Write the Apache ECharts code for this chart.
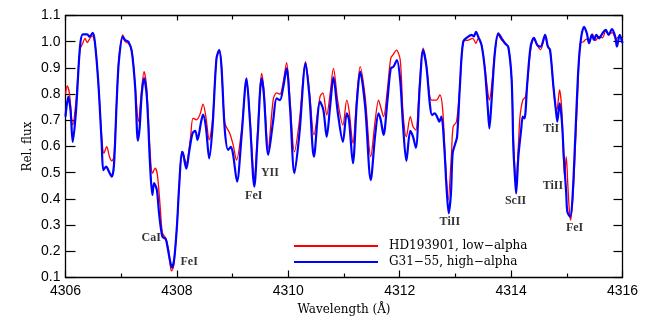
<!DOCTYPE html>
<html>
<head>
<meta charset="utf-8">
<script src="https://cdn.jsdelivr.net/npm/echarts@6/dist/echarts.min.js"></script>
<style>
  html, body { margin: 0; padding: 0; background: #fff; }
  #main { width: 654px; height: 327px; }
</style>
</head>
<body>
<div id="main"></div>
<script>
// G31-55 (high-alpha), blue
let wlHigh = [4306.00,4306.05,4306.09,4306.13,4306.19,4306.26,4306.31,4306.39,4306.43,4306.49,4306.53,4306.59,4306.65,4306.68,4306.73,4306.78,4306.83,4306.87,4306.92,4306.96,
  4307.03,4307.07,4307.13,4307.19,4307.25,4307.30,4307.33,4307.37,4307.41,4307.46,4307.52,4307.56,4307.59,4307.64,4307.68,4307.74,4307.80,4307.83,4307.88,4307.91,4307.95,
  4308.00,4308.04,4308.09,4308.11,4308.17,4308.22,4308.28,4308.33,4308.37,4308.43,4308.47,4308.52,4308.58,4308.64,4308.71,4308.76,4308.80,4308.86,4308.92,4308.97,
  4309.01,4309.08,4309.16,4309.25,4309.31,4309.39,4309.45,4309.52,4309.56,4309.64,4309.73,4309.79,4309.85,4309.91,4309.97,
  4310.03,4310.11,4310.20,4310.31,4310.38,4310.46,4310.57,4310.63,4310.69,4310.75,4310.81,4310.89,4310.98,
  4311.05,4311.09,4311.16,4311.23,4311.29,4311.38,4311.48,4311.56,4311.62,4311.66,4311.71,4311.78,4311.84,4311.89,4311.95,
  4312.01,4312.06,4312.12,4312.19,4312.24,4312.29,4312.36,4312.42,4312.48,4312.54,4312.58,4312.63,4312.67,4312.71,4312.75,4312.80,4312.84,4312.88,4312.92,4312.95,4312.99,
  4313.03,4313.08,4313.14,4313.23,4313.29,4313.33,4313.37,4313.41,4313.47,4313.53,4313.58,4313.61,4313.65,4313.71,4313.77,4313.83,4313.89,4313.95,
  4314.01,4314.04,4314.07,4314.09,4314.13,4314.18,4314.21,4314.24,4314.29,4314.35,4314.41,4314.47,4314.53,4314.61,4314.66,4314.70,4314.76,4314.81,4314.83,4314.87,4314.91,4314.95,4314.99,
  4315.01,4315.06,4315.10,4315.15,4315.21,4315.26,4315.31,4315.36,4315.40,4315.45,4315.49,4315.53,4315.58,4315.64,4315.70,4315.75,4315.81,4315.87,4315.90,4315.95,4316.00];
let fluxHigh = [0.714,0.790,0.739,0.618,0.740,0.980,1.028,1.028,1.019,1.034,0.994,0.841,0.612,0.510,0.523,0.504,0.485,0.529,0.777,0.930,
  1.019,1.006,1.000,0.962,0.828,0.622,0.669,0.803,0.860,0.790,0.523,0.415,0.460,0.434,0.345,0.256,0.246,0.218,0.160,0.138,0.167,
  0.294,0.447,0.580,0.574,0.515,0.580,0.650,0.660,0.625,0.689,0.722,0.676,0.555,0.676,0.935,0.968,0.905,0.663,0.587,0.599,
  0.568,0.466,0.637,0.860,0.701,0.447,0.637,0.860,0.803,0.568,0.701,0.784,0.777,0.828,0.898,
  0.752,0.498,0.650,0.917,0.790,0.561,0.771,0.739,0.637,0.752,0.864,0.727,0.618,
  0.727,0.701,0.536,0.765,0.886,0.752,0.472,0.644,0.727,0.701,0.644,0.777,0.898,0.905,0.930,
  0.850,0.680,0.545,0.660,0.637,0.595,0.828,0.968,0.905,0.765,0.720,0.727,0.714,0.695,0.714,0.599,0.447,0.345,0.421,0.574,0.606,
  0.637,0.828,1.000,1.019,1.026,1.020,1.038,1.019,0.987,0.892,0.752,0.669,0.777,0.962,1.032,1.013,0.994,0.980,
  0.854,0.600,0.480,0.421,0.561,0.663,0.714,0.707,0.841,0.981,1.015,0.987,0.981,1.026,0.981,0.968,0.828,0.727,0.695,0.765,0.701,0.548,0.421,
  0.351,0.332,0.396,0.625,0.905,1.019,1.057,1.032,0.994,1.026,1.006,1.026,1.013,1.032,1.045,1.026,1.048,1.019,0.981,1.026,0.994];

// HD193901 (low-alpha), red
let wlLow = [4306.00,4306.03,4306.07,4306.13,4306.19,4306.26,4306.31,4306.35,4306.39,4306.44,4306.48,4306.53,4306.59,4306.65,4306.69,4306.74,4306.79,4306.83,4306.87,4306.92,4306.96,
  4307.03,4307.07,4307.13,4307.19,4307.25,4307.31,4307.36,4307.41,4307.46,4307.52,4307.56,4307.61,4307.65,4307.70,4307.74,4307.80,4307.85,4307.90,4307.94,
  4308.00,4308.04,4308.09,4308.11,4308.17,4308.24,4308.29,4308.35,4308.41,4308.47,4308.52,4308.58,4308.64,4308.71,4308.76,4308.80,4308.86,4308.95,
  4309.01,4309.07,4309.16,4309.25,4309.31,4309.39,4309.45,4309.52,4309.56,4309.64,4309.73,4309.79,4309.85,4309.91,4309.97,
  4310.03,4310.11,4310.20,4310.31,4310.38,4310.46,4310.57,4310.62,4310.69,4310.75,4310.81,4310.89,4310.98,
  4311.05,4311.09,4311.16,4311.23,4311.29,4311.38,4311.48,4311.56,4311.62,4311.66,4311.71,4311.78,4311.84,4311.89,4311.94,
  4312.01,4312.06,4312.12,4312.19,4312.24,4312.29,4312.36,4312.42,4312.48,4312.54,4312.58,4312.66,4312.72,4312.77,4312.82,4312.87,4312.93,4312.96,
  4313.02,4313.08,4313.14,4313.23,4313.31,4313.37,4313.41,4313.47,4313.53,4313.58,4313.61,4313.65,4313.71,4313.77,4313.83,4313.89,4313.95,
  4314.01,4314.04,4314.07,4314.09,4314.13,4314.16,4314.21,4314.26,4314.30,4314.35,4314.41,4314.47,4314.53,4314.61,4314.66,4314.70,4314.76,4314.81,4314.83,4314.87,4314.91,4314.96,4314.99,
  4315.02,4315.05,4315.07,4315.12,4315.19,4315.24,4315.30,4315.35,4315.40,4315.46,4315.52,4315.58,4315.64,4315.70,4315.76,4315.82,4315.88,4315.94,4316.00];
let fluxLow = [0.800,0.831,0.803,0.682,0.777,0.970,0.994,1.013,0.997,1.013,1.022,0.994,0.841,0.637,0.574,0.599,0.561,0.545,0.561,0.777,0.940,
  1.026,1.000,0.994,0.969,0.835,0.695,0.803,0.886,0.815,0.574,0.498,0.517,0.491,0.370,0.270,0.250,0.206,0.125,0.141,
  0.294,0.447,0.580,0.574,0.536,0.625,0.708,0.702,0.720,0.762,0.714,0.625,0.702,0.935,0.968,0.910,0.689,0.650,
  0.606,0.548,0.660,0.855,0.715,0.479,0.660,0.879,0.820,0.593,0.780,0.805,0.800,0.847,0.920,
  0.780,0.580,0.700,0.924,0.810,0.644,0.790,0.805,0.720,0.800,0.898,0.770,0.682,
  0.777,0.739,0.612,0.790,0.905,0.790,0.561,0.700,0.777,0.750,0.714,0.820,0.937,0.953,0.968,
  0.930,0.727,0.637,0.714,0.675,0.663,0.850,0.975,0.910,0.790,0.777,0.777,0.797,0.746,0.548,0.396,0.574,0.676,
  0.695,0.828,1.000,1.006,1.013,0.994,1.013,0.987,0.900,0.810,0.777,0.830,0.962,1.026,1.006,0.994,0.980,
  0.854,0.640,0.500,0.460,0.600,0.714,0.777,0.790,0.860,0.968,1.010,0.985,0.970,1.020,0.981,0.968,0.828,0.739,0.745,0.816,0.739,0.485,0.561,
  0.447,0.345,0.319,0.447,0.777,0.994,1.000,1.010,1.005,1.030,1.005,1.020,1.015,1.040,1.030,1.035,1.010,1.020,1.010];

// line identifications
let lineNames = ['CaI', 'FeI', 'FeI', 'YII', 'TiII', 'ScII', 'TiI', 'TiII', 'FeI'];
let lineWl = [4307.54, 4308.22, 4309.38, 4309.67, 4312.90, 4314.08, 4314.72, 4314.75, 4315.14];
let lineFlux = [0.251, 0.159, 0.411, 0.500, 0.313, 0.392, 0.669, 0.450, 0.290];

let nameLow = 'HD193901, low\u2212alpha';
let nameHigh = 'G31\u221255, high\u2212alpha';

let pairs = function (xs, ys) {
  return xs.map(function (x, i) { return [x, ys[i]]; });
};

let chart = echarts.init(document.getElementById('main'));
let tickFont = { fontFamily: 'Liberation Sans', fontSize: 14, color: '#000' };

let option = {
  animation: false,
  backgroundColor: '#fff',
  grid: { left: 65.5, right: 31.5, top: 15.5, bottom: 49.5, show: false },
  legend: {
    orient: 'vertical',
    left: 288,
    top: 235,
    itemWidth: 84,
    itemHeight: 14,
    itemGap: 4,
    itemStyle: { opacity: 0 },
    data: [nameLow, nameHigh],
    textStyle: { fontFamily: 'DejaVu Serif', fontSize: 12, color: '#000', padding: [0, 0, 0, 6] }
  },
  xAxis: [
    {
      type: 'value', position: 'bottom', min: 4306, max: 4316, interval: 2,
      name: 'Wavelength (\u00c5)', nameLocation: 'middle', nameGap: 22,
      nameTextStyle: { fontFamily: 'DejaVu Serif', fontSize: 12, color: '#000' },
      axisLine: { show: true, onZero: false, lineStyle: { color: '#000', width: 1.3 } },
      axisTick: { show: true, inside: true, length: 7, lineStyle: { color: '#000', width: 1.2 } },
      minorTick: { show: true, splitNumber: 2, length: 4, lineStyle: { color: '#000', width: 1.2 } },
      axisLabel: Object.assign({ margin: 7, formatter: function (v) { return String(v); } }, tickFont),
      splitLine: { show: false }
    },
    {
      type: 'value', position: 'top', min: 4306, max: 4316, interval: 2,
      axisLine: { show: true, onZero: false, lineStyle: { color: '#000', width: 1.3 } },
      axisTick: { show: true, inside: true, length: 5, lineStyle: { color: '#000', width: 1.2 } },
      minorTick: { show: true, splitNumber: 2, length: 4, lineStyle: { color: '#000', width: 1.2 } },
      axisLabel: { show: false },
      splitLine: { show: false }
    }
  ],
  yAxis: [
    {
      type: 'value', position: 'left', min: 0.1, max: 1.1, interval: 0.1,
      name: 'Rel. flux', nameLocation: 'middle', nameGap: 32, nameRotate: 90,
      nameMoveOverlap: false,
      nameTextStyle: { fontFamily: 'DejaVu Serif', fontSize: 12, color: '#000' },
      axisLine: { show: true, onZero: false, lineStyle: { color: '#000', width: 1.3 } },
      axisTick: { show: true, inside: true, length: 10, lineStyle: { color: '#000', width: 1.2 } },
      axisLabel: Object.assign({ margin: 5, formatter: function (v) { return v.toFixed(1); } }, tickFont),
      splitLine: { show: false }
    },
    {
      type: 'value', position: 'right', min: 0.1, max: 1.1, interval: 0.1,
      axisLine: { show: true, onZero: false, lineStyle: { color: '#000', width: 1.3 } },
      axisTick: { show: true, inside: true, length: 9, lineStyle: { color: '#000', width: 1.2 } },
      axisLabel: { show: false },
      splitLine: { show: false }
    }
  ],
  series: [
    {
      name: nameLow,
      type: 'line',
      data: pairs(wlLow, fluxLow),
      symbol: 'none',
      smooth: 0.3,
      clip: true,
      color: '#ff0000',
      lineStyle: { color: '#ff0000', width: 1.3 }
    },
    {
      name: nameHigh,
      type: 'line',
      data: pairs(wlHigh, fluxHigh),
      symbol: 'none',
      smooth: 0.3,
      clip: true,
      color: '#0000ff',
      lineStyle: { color: '#0000ff', width: 2.2 }
    },
    {
      name: 'ids',
      type: 'scatter',
      silent: true,
      symbolSize: 0,
      data: lineNames.map(function (n, i) { return [lineWl[i], lineFlux[i], n]; }),
      label: {
        show: true,
        position: 'inside',
        formatter: function (p) { return p.data[2]; },
        fontFamily: 'Liberation Serif',
        fontWeight: 'bold',
        fontSize: 12,
        color: '#000'
      }
    }
  ]
};

chart.setOption(option);
</script>
</body>
</html>
